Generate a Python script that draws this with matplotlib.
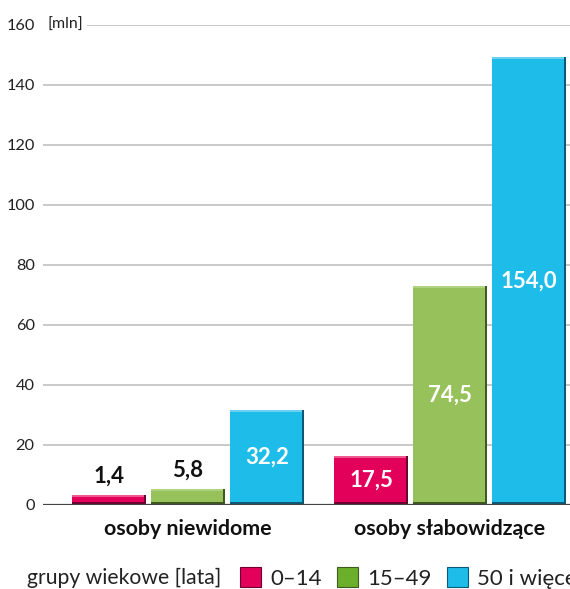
import matplotlib.pyplot as plt
from matplotlib.patches import Patch
import numpy as np

plt.rcParams['font.family'] = ['Lato', 'DejaVu Sans']

# data
groups = ['osoby niewidome', 'osoby słabowidzące']
ages = ['0–14', '15–49', '50 i więcej']
value_labels = [['1,4', '5,8', '32,2'], ['17,5', '74,5', '154,0']]
# bar heights as drawn in the picture (mln)
heights = [[3.3, 5.4, 31.7], [16.4, 73.0, 149.2]]
colors = ['#E2005B', '#97C15A', '#1EBCE8']
dark = ['#6E0030', '#3E5A1E', '#0B5A75']
light = ['#EE5A90', '#AFD27E', '#6CD0F0']
legend_colors = ['#E2005B', '#6CAF2A', '#1EBCE8']
yticks = [0, 20, 40, 60, 80, 100, 120, 140, 160]

fig = plt.figure(figsize=(5.70, 5.89), dpi=100)
ax = fig.add_axes([43 / 570, 84 / 589, 527 / 570, 480 / 589])

group_x = np.array([0.0, 262 / 79])
offsets = [-1, 0, 1]
w = 74 / 79

for g, gx in enumerate(group_x):
    for i in range(3):
        x = gx + offsets[i]
        h = heights[g][i]
        ax.bar(x, h, width=w, color=colors[i], zorder=3)
        # bevel: top highlight, right and bottom shadow
        ax.bar(x, 0.6, bottom=h - 0.6, width=w, color=light[i], zorder=4)
        ax.bar(x + w / 2 - 0.015, h, width=0.03, color=dark[i], zorder=5)
        ax.bar(x, 0.9, width=w, color=dark[i], zorder=5)
        if h > 12:
            ax.text(x, h / 2, value_labels[g][i], ha='center', va='center',
                    color='white', fontsize=16, fontweight='bold', zorder=6)
        else:
            ax.annotate(value_labels[g][i], (x, h), xytext=(0, 6),
                        textcoords='offset points', ha='center', va='bottom',
                        color='#111111', fontsize=16, fontweight='bold', zorder=6)

ax.set_xlim((43 - 188) / 79, (570 - 188) / 79)
ax.set_ylim(0, 160)
ax.set_yticks(yticks)
ax.set_yticklabels([str(t) for t in yticks], fontsize=11.8, color='#222222')
ax.set_xticks(group_x)
ax.set_xticklabels(groups, fontsize=15.4, fontweight='bold', color='#111111')
ax.tick_params(axis='y', length=0, pad=6)
ax.tick_params(axis='x', length=0, pad=10)
ax.yaxis.grid(True, color='#BBBBBB', linewidth=1.1, zorder=0)
ax.set_axisbelow(True)
for s in ax.spines.values():
    s.set_visible(False)
ax.axhline(0, color='#444444', linewidth=1.6, zorder=7)

ax.text(0.008, 160, '[mln]', transform=ax.get_yaxis_transform(),
        ha='left', va='center', fontsize=11.4, color='#222222', zorder=2,
        bbox=dict(facecolor='white', edgecolor='none', pad=3))

# legend
fig.text(27 / 570, 11 / 589, 'grupy wiekowe [lata]', fontsize=15.2,
         color='#222222', ha='left', va='center')
handles = [Patch(facecolor=c, edgecolor=d, linewidth=0.8)
           for c, d in zip(legend_colors, dark)]
fig.legend(handles, ages, loc='center left', bbox_to_anchor=(240 / 570, 11 / 589),
           ncol=3, frameon=False, fontsize=16, handlelength=0.95, handleheight=0.95,
           handletextpad=0.4, columnspacing=0.7, borderpad=0, borderaxespad=0,
           labelcolor='#222222')

fig.savefig('out.png', dpi=100)
